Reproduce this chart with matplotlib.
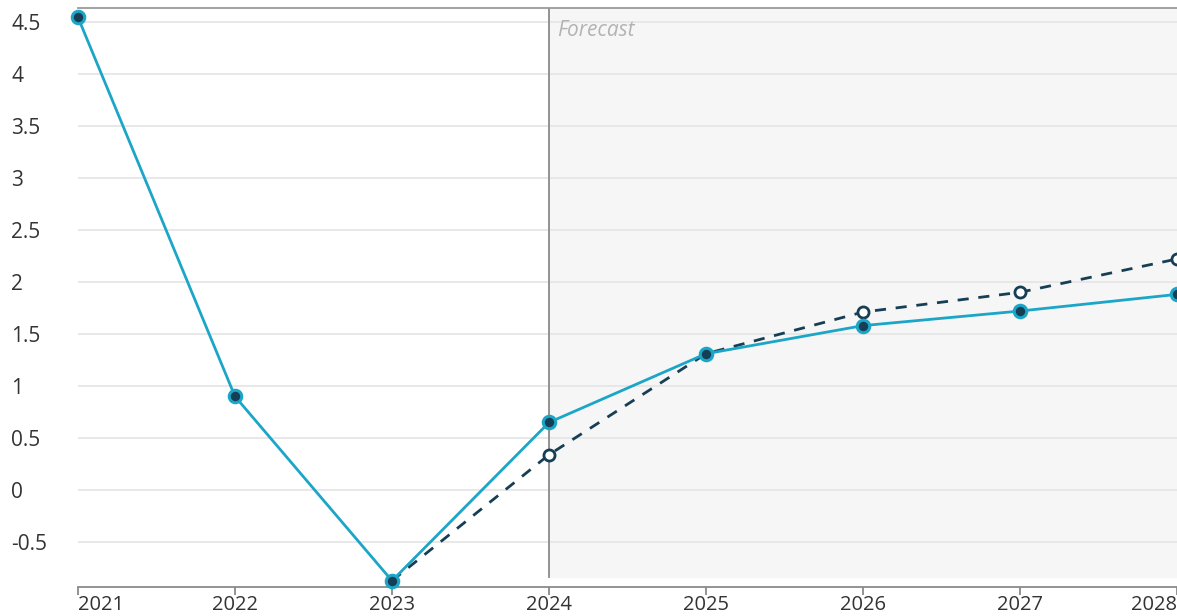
import matplotlib.pyplot as plt

# growth path, actual + baseline forecast vs. alternative forecast
years = [2021, 2022, 2023, 2024, 2025, 2026, 2027, 2028]
baseline = [4.54, 0.90, -0.87, 0.65, 1.31, 1.58, 1.72, 1.88]
alt_years = [2023, 2024, 2025, 2026, 2027, 2028]
alternative = [-0.87, 0.34, 1.31, 1.71, 1.90, 2.22]
y_ticks = [-0.5, 0, 0.5, 1, 1.5, 2, 2.5, 3, 3.5, 4, 4.5]
y_labels = ['-0.5', '0', '0.5', '1', '1.5', '2', '2.5', '3', '3.5', '4', '4.5']
forecast_start = 2024

CYAN = '#1ba6c8'
NAVY = '#163e55'
GRID = '#e4e4e4'
TEXT = '#333333'

plt.rcParams['font.family'] = ['Open Sans', 'DejaVu Sans']

fig = plt.figure(figsize=(11.77, 6.16), dpi=100)
ax = fig.add_axes([78 / 1177, 29 / 616, 1 - 78 / 1177, 579 / 616])

ax.set_xlim(2021, 2028)
ax.set_ylim(-0.93, 4.63)

# forecast zone
ax.axvspan(forecast_start, 2028, ymin=0.017, ymax=1, color='#f6f6f6', zorder=0)
ax.axvline(forecast_start, ymin=0.017, ymax=1, color='#8a8a8a', lw=1.3, zorder=1)
ax.text(forecast_start + 0.05, 4.41, 'Forecast', style='italic', color='#b3b3b3',
        fontsize=15, va='center', ha='left')

for y in y_ticks:
    ax.axhline(y, color=GRID, lw=1.2, zorder=0.5)

ax.plot(alt_years, alternative, color=NAVY, lw=2, ls=(0, (4, 3.5)), marker='o',
        ms=8, mfc='white', mec=NAVY, mew=2, zorder=3, clip_on=False)
ax.plot(years, baseline, color=CYAN, lw=2, marker='o', ms=9, mfc=NAVY,
        mec=CYAN, mew=2.2, zorder=4, clip_on=False)

for side in ['left', 'right']:
    ax.spines[side].set_visible(False)
ax.spines['top'].set_color('#9a9a9a')
ax.spines['top'].set_linewidth(1.3)
ax.spines['bottom'].set_color('#8a8a8a')
ax.spines['bottom'].set_linewidth(1.3)

ax.set_xticks(years)
ax.set_xticklabels([str(y) for y in years])
ax.tick_params(axis='x', length=6, width=1.3, color='#8a8a8a', labelsize=14.5,
               labelcolor=TEXT, pad=-0.5)
ax.get_xticklabels()[0].set_horizontalalignment('left')
ax.get_xticklabels()[-1].set_horizontalalignment('right')

ax.set_yticks(y_ticks)
ax.set_yticklabels(y_labels)
ax.tick_params(axis='y', length=0, labelsize=15, labelcolor=TEXT, pad=48)
for lab in ax.get_yticklabels():
    lab.set_horizontalalignment('left')

fig.savefig('out.png', dpi=100)
